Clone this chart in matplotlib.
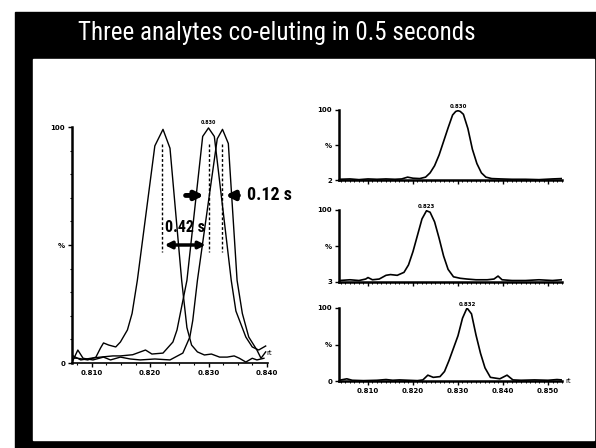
import matplotlib
matplotlib.use("Agg")
import matplotlib.pyplot as plt
import matplotlib.patches as patches
from matplotlib.ticker import MultipleLocator

cond = ['Roboto Condensed', 'DejaVu Sans']

title = "Three analytes co-eluting in 0.5 seconds"

# left chart: three overlaid traces (rt in min, intensity %)
rt_a = [0.8068, 0.8076, 0.8093, 0.8107, 0.8115, 0.8120, 0.8129, 0.8141, 0.8149, 0.8161,
        0.8169, 0.8178, 0.8208, 0.8222, 0.8234, 0.8254, 0.8263, 0.8271, 0.8281, 0.8293,
        0.8305, 0.8319, 0.8332, 0.8344, 0.8353, 0.8364, 0.8375, 0.8383, 0.8395]
int_a = [2.1, 2.0, 1.3, 2.5, 6.4, 8.5, 7.6, 6.8, 8.9, 14,
         21, 35, 92, 99, 91, 35, 15, 7.6, 4.7, 3.4,
         3.8, 2.5, 2.5, 3.0, 2.0, 0.4, 2.0, 1.3, 2.0]

rt_b = [0.8068, 0.8081, 0.8098, 0.8115, 0.8136, 0.8149, 0.8170, 0.8192, 0.8203, 0.8222,
        0.8239, 0.8246, 0.8263, 0.8290, 0.8300, 0.8310, 0.8339, 0.8347, 0.8364, 0.8375,
        0.8386, 0.8398]
int_b = [3.0, 1.3, 2.0, 2.5, 3.0, 3.0, 3.5, 5.5, 3.8, 4.2,
         8.9, 14, 35, 96, 99.6, 96, 35, 22, 11, 6.8,
         5.5, 7.2]

rt_c = [0.8068, 0.8076, 0.8085, 0.8102, 0.8120, 0.8132, 0.8149, 0.8166, 0.8183, 0.8208,
        0.8234, 0.8256, 0.8268, 0.8273, 0.8281, 0.8315, 0.8324, 0.8334, 0.8349, 0.8358,
        0.8369, 0.8383, 0.8390, 0.8398]
int_c = [1.3, 5.5, 2.0, 1.3, 2.5, 1.3, 2.5, 1.7, 1.3, 1.7,
         1.3, 4.2, 11, 18, 35, 95, 99, 93, 35, 21,
         11, 5.5, 2.0, 4.7]

apex_rt = [0.8221, 0.8300, 0.8323]

# right charts: the three traces separately
rt_top = [0.8036, 0.8060, 0.8080, 0.8100, 0.8120, 0.8140, 0.8160, 0.8175, 0.8188, 0.8200,
          0.8215, 0.8228, 0.8238, 0.8248, 0.8258, 0.8268, 0.8278, 0.8288, 0.8295, 0.8300,
          0.8305, 0.8312, 0.8322, 0.8332, 0.8342, 0.8352, 0.8362, 0.8375, 0.8395, 0.8420,
          0.8450, 0.8480, 0.8510, 0.8530]
int_top = [3, 3.5, 2.5, 3.5, 3, 3.5, 3, 3.5, 6, 4.5,
           4, 6, 12, 22, 37, 56, 75, 93, 98, 99,
           98, 94, 74, 45, 25, 12, 6, 4, 3.5, 3,
           3, 2.5, 3.5, 4]

rt_mid = [0.8036, 0.8060, 0.8080, 0.8095, 0.8100, 0.8110, 0.8125, 0.8140, 0.8150, 0.8165,
          0.8180, 0.8190, 0.8200, 0.8210, 0.8220, 0.8230, 0.8238, 0.8248, 0.8258, 0.8268,
          0.8278, 0.8290, 0.8305, 0.8320, 0.8340, 0.8365, 0.8380, 0.8389, 0.8398, 0.8420,
          0.8450, 0.8480, 0.8510, 0.8530]
int_mid = [5, 6, 5, 7, 9, 6, 7, 12, 13, 12,
           16, 26, 44, 66, 88, 99, 97, 84, 62, 38,
           20, 10, 8, 7, 6, 6, 7, 11, 6, 5,
           5, 6, 5, 6]

rt_bot = [0.8036, 0.8053, 0.8065, 0.8090, 0.8120, 0.8140, 0.8155, 0.8170, 0.8190, 0.8210,
          0.8222, 0.8233, 0.8245, 0.8260, 0.8270, 0.8280, 0.8290, 0.8300, 0.8310, 0.8320,
          0.8330, 0.8340, 0.8350, 0.8360, 0.8372, 0.8393, 0.8409, 0.8422, 0.8440, 0.8470,
          0.8500, 0.8520, 0.8530]
int_bot = [1, 3, 1, 0.5, 1, 2, 1, 1.5, 1, 0.5,
           1.5, 8, 5, 6, 13, 28, 45, 62, 86, 100,
           92, 63, 38, 18, 5, 3, 8, 1.5, 1, 1.5,
           1, 2, 1.5]

right_rts = [rt_top, rt_mid, rt_bot]
right_ints = [int_top, int_mid, int_bot]
right_base = [2, 3, 0]
right_apex = ["0.830", "0.823", "0.832"]

fig = plt.figure(figsize=(5.96, 4.48), dpi=100)

# black frame and white panel
fig.patches.append(patches.Rectangle((15/596, 0), 1, 436/448, transform=fig.transFigure,
                                     color='black', zorder=-2))
fig.patches.append(patches.Rectangle((33/596, 8/448), 561/596, 381/448,
                                     transform=fig.transFigure, color='white', zorder=-1))

t = fig.text(277/596, 1 - 33/448, title, color='white', ha='center', va='center',
             fontsize=18, family=cond)
# size the title to roughly the width seen in the slide
fig.canvas.draw()
w = t.get_window_extent().width
t.set_fontsize(18 * 398 / w)

lab = dict(fontsize=5, fontweight='bold')

# left plot
ax = fig.add_axes([72/596, 1 - 363/448, 196/596, 236/448])
ax.plot(rt_a, int_a, color='black', lw=1.0)
ax.plot(rt_b, int_b, color='black', lw=1.0)
ax.plot(rt_c, int_c, color='black', lw=1.0)
for r in apex_rt:
    ax.plot([r, r], [93, 47], color='black', lw=1.0, ls=(0, (2, 1.5)))
ax.set_xlim(0.8066, 0.8402)
ax.set_ylim(0, 100)
ax.set_xticks([0.810, 0.820, 0.830, 0.840])
ax.set_xticklabels(["0.810", "0.820", "0.830", "0.840"], **lab)
ax.set_yticks([0, 50, 100])
ax.set_yticklabels(["0", "%", "100"], **lab)
ax.xaxis.set_minor_locator(MultipleLocator(0.0025))
ax.yaxis.set_minor_locator(MultipleLocator(10))
ax.tick_params(length=3, width=1, pad=2)
ax.tick_params(which='minor', length=1.5, width=0.8)
for s in ['top', 'right']:
    ax.spines[s].set_visible(False)
ax.spines['left'].set_linewidth(1.8)
ax.spines['bottom'].set_linewidth(1.2)
ax.text(0.8400, 3, "rt", fontsize=5, ha='left', va='bottom')
ax.text(0.8300, 101, "0.830", fontsize=3.5, fontweight='bold', ha='center', va='bottom')

ax.annotate("", xy=(0.8220, 50), xytext=(0.8300, 50),
            arrowprops=dict(arrowstyle='<|-|>', lw=2.5, color='black', mutation_scale=10))
ax.annotate("", xy=(0.8297, 71), xytext=(0.8256, 71),
            arrowprops=dict(arrowstyle='-|>', lw=3.5, color='black', mutation_scale=12))
ax.annotate("", xy=(0.8324, 71), xytext=(0.8356, 71),
            arrowprops=dict(arrowstyle='-|>', lw=3.5, color='black', mutation_scale=12))
ax.text(0.8260, 57.5, "0.42 s", fontsize=11.5, fontweight='bold', ha='center', va='center',
        family=cond)
ax.text(0.8366, 71, "0.12 s", fontsize=13, fontweight='bold', ha='left', va='center',
        family=cond)

# right plots
boxes = [(180, 110), (282, 210), (381, 308)]
for i in range(3):
    y0, y1 = boxes[i]
    a = fig.add_axes([339/596, 1 - y0/448, 223/596, (y0 - y1)/448])
    a.plot(right_rts[i], right_ints[i], color='black', lw=1.2)
    a.set_xlim(0.80356, 0.85311)
    a.set_ylim(right_base[i], 100)
    a.set_yticks([right_base[i], (100 + right_base[i])/2, 100])
    a.set_yticklabels([str(right_base[i]), "%", "100"], **lab)
    a.set_xticks([0.810, 0.820, 0.830, 0.840, 0.850])
    if i == 2:
        a.set_xticklabels(["0.810", "0.820", "0.830", "0.840", "0.850"], **lab)
        a.text(0.8538, right_base[i], "rt", fontsize=5, ha='left', va='center')
    else:
        a.set_xticklabels([])
    a.xaxis.set_minor_locator(MultipleLocator(0.001))
    a.tick_params(length=3, width=1, pad=2)
    a.tick_params(which='minor', length=1.5, width=0.7)
    for s in ['top', 'right']:
        a.spines[s].set_visible(False)
    a.spines['left'].set_linewidth(1.8)
    a.spines['bottom'].set_linewidth(1.8)
    k = right_ints[i].index(max(right_ints[i]))
    a.text(right_rts[i][k], 102, right_apex[i], fontsize=4, fontweight='bold',
           ha='center', va='bottom')

fig.savefig("out.png", dpi=100)
